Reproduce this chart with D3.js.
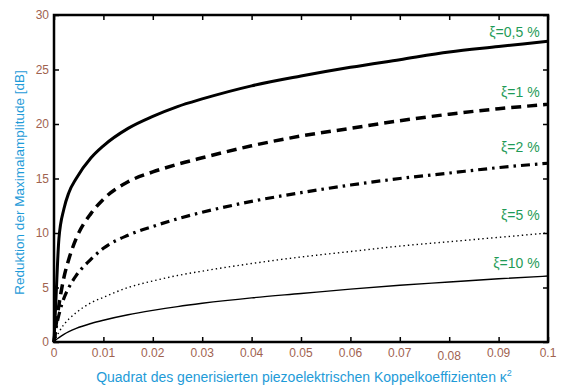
<!DOCTYPE html>
<html>
<head>
<meta charset="utf-8">
<script src="https://cdn.jsdelivr.net/npm/d3@7"></script>
<style>
  body { margin: 0; background: #fff; }
  svg { display: block; font-family: "Liberation Sans", Arial, sans-serif; }
</style>
</head>
<body>
<svg width="561" height="385"></svg>
<script>
// kappa^2 sample points (x values)
const kappa = [0, 0.0004, 0.001, 0.002, 0.003, 0.0045, 0.0075, 0.01, 0.015, 0.02, 0.025, 0.03, 0.04, 0.05, 0.06, 0.07, 0.08, 0.09, 0.1];

// reduction in dB for each damping ratio
const xi05 = [0, 4.0, 9.5, 12.2, 13.7, 15.0, 16.9, 18.0, 19.6, 20.7, 21.6, 22.3, 23.5, 24.4, 25.2, 25.9, 26.6, 27.1, 27.6];
const xi1  = [0, 1.5, 3.4, 5.9, 7.6, 9.5, 11.8, 13.1, 14.7, 15.6, 16.3, 16.9, 18.0, 18.9, 19.6, 20.3, 20.9, 21.4, 21.8];
const xi2  = [0, 1.2, 2.5, 4.0, 5.0, 6.1, 7.6, 8.6, 9.8, 10.6, 11.3, 11.9, 12.9, 13.7, 14.4, 15.0, 15.5, 16.0, 16.4];
const xi5  = [0, 0.4, 0.9, 1.6, 2.1, 2.7, 3.6, 4.1, 5.0, 5.6, 6.1, 6.5, 7.2, 7.8, 8.3, 8.8, 9.2, 9.6, 10.0];
const xi10 = [0, 0.2, 0.4, 0.7, 0.95, 1.25, 1.7, 2.0, 2.5, 2.9, 3.25, 3.55, 4.05, 4.45, 4.85, 5.2, 5.5, 5.8, 6.05];

const seriesLabels = ['ξ=0,5 %', 'ξ=1 %', 'ξ=2 %', 'ξ=5 %', 'ξ=10 %'];
const labelY = [28.0, 22.5, 17.4, 11.2, 6.8];

const xTicks = [0, 0.01, 0.02, 0.03, 0.04, 0.05, 0.06, 0.07, 0.08, 0.09, 0.1];
const xTickLabels = ['0', '0.01', '0.02', '0.03', '0.04', '0.05', '0.06', '0.07', '0.08', '0.09', '0.1'];
const yTicks = [0, 5, 10, 15, 20, 25, 30];

const svg = d3.select('svg');
const width = +svg.attr('width');
const height = +svg.attr('height');
const margin = { top: 15, right: 13, bottom: 43, left: 54 };
const innerWidth = width - margin.left - margin.right;
const innerHeight = height - margin.top - margin.bottom;

const tickColor = '#a0624f';
const titleColor = '#1e9bd8';
const noteColor = '#1f9b57';

const xScale = d3.scaleLinear().domain([0, 0.1]).range([0, innerWidth]);
const yScale = d3.scaleLinear().domain([0, 30]).range([innerHeight, 0]);

const g = svg.append('g')
    .attr('transform', `translate(${margin.left}, ${margin.top})`);

const styles = [
    { w: 3, dash: null },
    { w: 3.5, dash: '10,6' },
    { w: 3.2, dash: '9,5,2.5,5' },
    { w: 1.4, dash: '1.4,3' },
    { w: 1.4, dash: null }
];

const line = d3.line()
    .x(d => xScale(d[0]))
    .y(d => yScale(d[1]))
    .curve(d3.curveMonotoneX);

[xi05, xi1, xi2, xi5, xi10].forEach((vals, i) => {
    g.append('path')
        .datum(kappa.map((k, j) => [k, vals[j]]))
        .attr('fill', 'none')
        .attr('stroke', '#000')
        .attr('stroke-width', styles[i].w)
        .attr('stroke-dasharray', styles[i].dash)
        .attr('d', line);
});

// tick marks point inward on all four sides
const axes = [
    [d3.axisBottom(xScale).tickValues(xTicks), `translate(0, ${innerHeight})`],
    [d3.axisTop(xScale).tickValues(xTicks), null],
    [d3.axisLeft(yScale).tickValues(yTicks), null],
    [d3.axisRight(yScale).tickValues(yTicks), `translate(${innerWidth}, 0)`]
];
axes.forEach(([ax, tr]) => {
    const a = g.append('g').attr('transform', tr).call(ax.tickSize(-5));
    a.select('.domain').remove();
    a.selectAll('text').remove();
    a.selectAll('.tick line').attr('stroke', '#000').attr('stroke-width', 1.5);
});

// tick labels
g.selectAll('.xlab')
    .data(xTicks)
    .join('text')
    .attr('class', 'xlab')
    .attr('x', d => xScale(d))
    .attr('y', (d, i) => innerHeight + (d === 0.08 ? 18 : 15))
    .attr('text-anchor', 'middle')
    .attr('fill', tickColor)
    .attr('font-size', 12)
    .text((d, i) => xTickLabels[i]);

g.selectAll('.ylab')
    .data(yTicks)
    .join('text')
    .attr('class', 'ylab')
    .attr('x', -5)
    .attr('y', d => yScale(d) + 4)
    .attr('text-anchor', 'end')
    .attr('fill', tickColor)
    .attr('font-size', 12)
    .text(d => d);

g.append('rect')
    .attr('width', innerWidth)
    .attr('height', innerHeight)
    .attr('fill', 'none')
    .attr('stroke', '#000')
    .attr('stroke-width', 2.5);

// curve annotations
seriesLabels.forEach((t, i) => {
    g.append('text')
        .attr('x', xScale(0.0983))
        .attr('y', yScale(labelY[i]))
        .attr('text-anchor', 'end')
        .attr('fill', noteColor)
        .attr('font-size', 14)
        .text(t);
});

// axis titles
svg.append('text')
    .attr('transform', `translate(24, ${margin.top + innerHeight / 2 + 4}) rotate(-90)`)
    .attr('text-anchor', 'middle')
    .attr('fill', titleColor)
    .attr('font-size', 13.5)
    .text('Reduktion der Maximalamplitude [dB]');

const xt = svg.append('text')
    .attr('x', margin.left + innerWidth / 2 + 3)
    .attr('y', 382)
    .attr('text-anchor', 'middle')
    .attr('fill', titleColor)
    .attr('font-size', 14);
xt.append('tspan').text('Quadrat des generisierten piezoelektrischen Koppelkoeffizienten κ');
xt.append('tspan').attr('dy', -6).attr('font-size', 9).text('2');
</script>
</body>
</html>
